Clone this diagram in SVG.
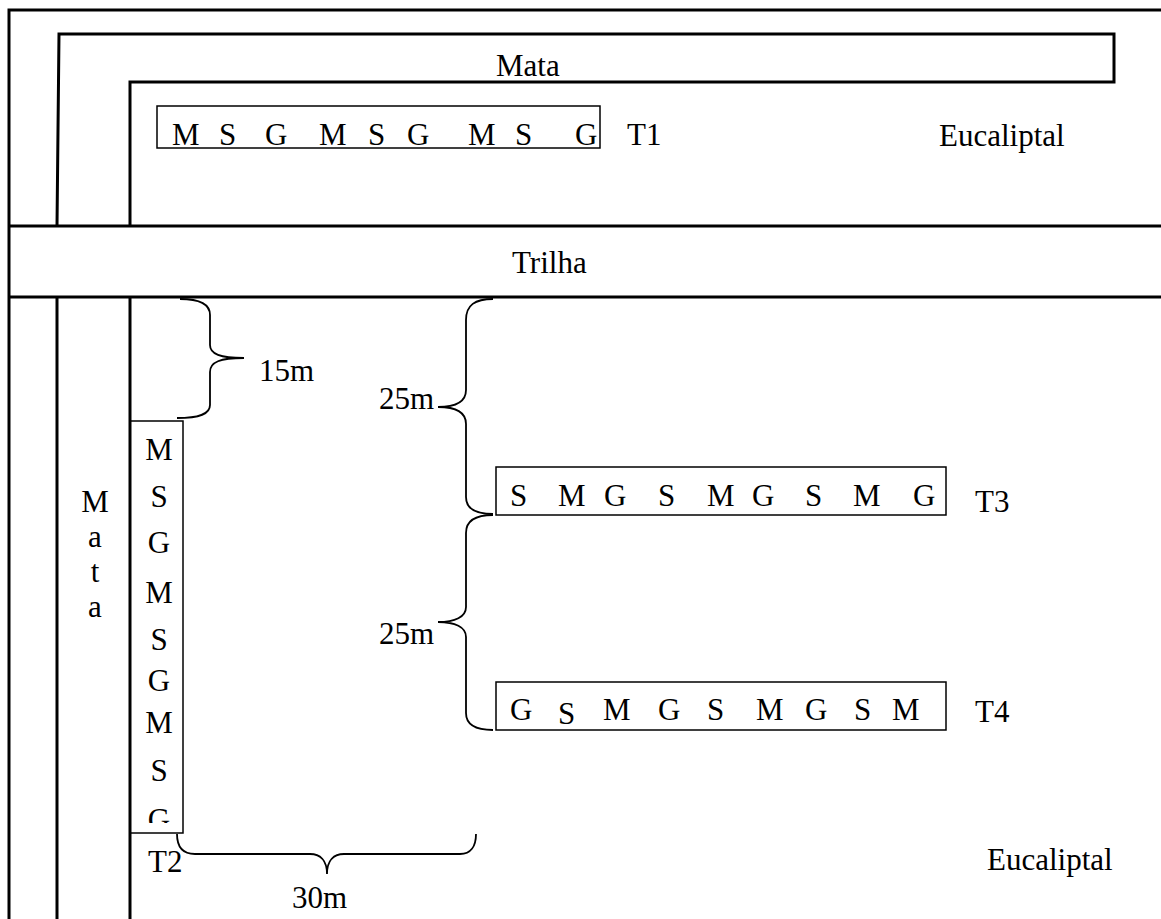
<svg xmlns="http://www.w3.org/2000/svg" width="1161" height="919" viewBox="0 0 1161 919">
<style>
text{font-family:"Liberation Serif","Times New Roman",serif;font-size:31px;fill:#000}
.thick{fill:none;stroke:#000;stroke-width:3}
.box{fill:none;stroke:#000;stroke-width:1.5}
.brace{fill:none;stroke:#000;stroke-width:1.8}
.mid{text-anchor:middle}
</style>
<defs>
<clipPath id="t2clip"><rect x="131" y="421" width="52" height="402"/></clipPath>
</defs>
<rect width="1161" height="919" fill="#fff"/>
<g id="frame">
<path class="thick" d="M9 919 L9 10 L1161 10"/>
</g>
<g id="mata-top">
<path class="thick" d="M57 226 L59 34 L1114 34 L1114 82 L130 82 L130 226"/>
<text x="496" y="76">Mata</text>
</g>
<g id="trilha">
<path class="thick" d="M9 226 L1161 226 M9 297 L1161 297"/>
<text x="512" y="273">Trilha</text>
</g>
<g id="mata-left">
<path class="thick" d="M57 297 L57 919 M130 297 L130 919"/>
<text class="mid" x="95" y="512">M</text>
<text class="mid" x="95" y="547">a</text>
<text class="mid" x="95" y="582">t</text>
<text class="mid" x="95" y="617">a</text>
</g>
<g id="eucaliptal-top"><text x="939" y="146">Eucaliptal</text></g>
<g id="eucaliptal-bottom"><text x="987" y="870">Eucaliptal</text></g>
<g id="T1">
<rect class="box" x="157" y="106" width="443" height="42"/>
<text x="172" y="145">M</text><text x="219" y="145">S</text><text x="265" y="145">G</text>
<text x="319" y="145">M</text><text x="368" y="145">S</text><text x="407" y="145">G</text>
<text x="468" y="145">M</text><text x="515" y="145">S</text><text x="575" y="145">G</text>
<text x="627" y="145">T1</text>
</g>
<g id="T2">
<rect class="box" x="130" y="421" width="53" height="412"/>
<g clip-path="url(#t2clip)">
<text class="mid" x="159" y="460">M</text>
<text class="mid" x="159" y="507">S</text>
<text class="mid" x="159" y="553">G</text>
<text class="mid" x="159" y="603">M</text>
<text class="mid" x="159" y="650">S</text>
<text class="mid" x="159" y="691">G</text>
<text class="mid" x="159" y="733">M</text>
<text class="mid" x="159" y="781">S</text>
<text class="mid" x="159" y="830">G</text>
</g>
<text x="148" y="872">T2</text>
</g>
<g id="T3">
<rect class="box" x="496" y="467" width="450" height="48"/>
<text x="510" y="506">S</text><text x="558" y="506">M</text><text x="604" y="506">G</text>
<text x="658" y="506">S</text><text x="707" y="506">M</text><text x="752" y="506">G</text>
<text x="805" y="506">S</text><text x="853" y="506">M</text><text x="913" y="506">G</text>
<text x="975" y="512">T3</text>
</g>
<g id="T4">
<rect class="box" x="496" y="682" width="450" height="48"/>
<text x="510" y="720">G</text><text x="558" y="724">S</text><text x="603" y="720">M</text>
<text x="658" y="720">G</text><text x="707" y="720">S</text><text x="756" y="720">M</text>
<text x="805" y="720">G</text><text x="854" y="720">S</text><text x="892" y="720">M</text>
<text x="975" y="722">T4</text>
</g>
<g id="connectors">
<path class="brace" d="M180 299 C200 299 210 304 210 315 L210 345 C210 354 220 358 244 358 C220 358 210 362 210 372 L210 405 C210 414 200 418 177 418"/>
<path class="brace" d="M493 299 C475 299 466 305 466 320 L466 390 C466 402 455 407 438 407 C455 407 466 412 466 424 L466 497 C466 508 475 514 493 514"/>
<path class="brace" d="M493 515 C475 515 466 521 466 533 L466 607 C466 617 455 622 438 622 C455 622 466 627 466 637 L466 713 C466 724 475 730 493 730"/>
<path class="brace" d="M177 834 C177 848 183 854 195 854 L310 854 C320 854 327 860 327 874 C327 860 334 854 344 854 L460 854 C471 854 476 846 476 834"/>
</g>
<g id="labels">
<text x="259" y="381">15m</text>
<text x="379" y="409">25m</text>
<text x="379" y="644">25m</text>
<text x="292" y="908">30m</text>
</g>
</svg>
